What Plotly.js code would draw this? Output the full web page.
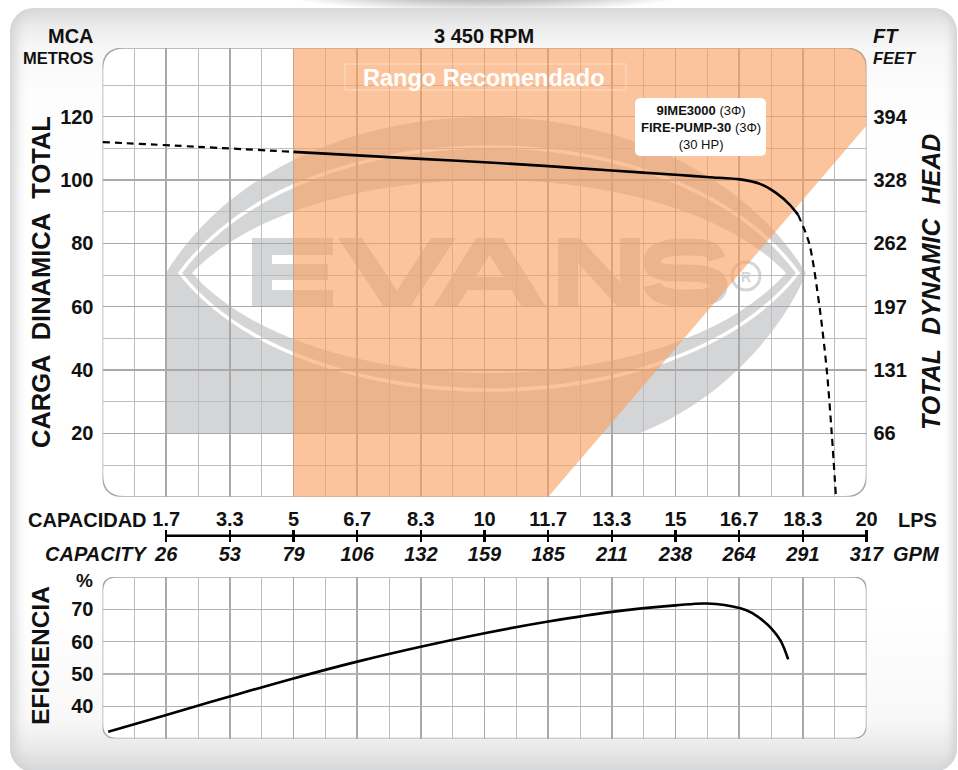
<!DOCTYPE html>
<html><head><meta charset="utf-8">
<script src="https://cdn.plot.ly/plotly-3.0.1.min.js"></script>
<style>
html,body{margin:0;padding:0;background:#fff;}
#wrap{position:relative;width:958px;height:770px;overflow:hidden;background:#fff;}
#shadow{position:absolute;left:270px;top:-34px;width:430px;height:46px;border-radius:50%;background:radial-gradient(ellipse at center, rgba(110,110,110,0.75) 0%, rgba(150,150,150,0.45) 45%, rgba(255,255,255,0) 72%);}
#panel{position:absolute;left:10px;top:8px;width:947px;height:764px;border-radius:24px;background:linear-gradient(to bottom,#d8d9da 0px,#ebebec 18px,#f7f7f7 40px,#fdfdfd 90px,#ffffff 200px,#ffffff 600px,#f8f8f8 712px,#e9e9ea 740px,#d6d7d8 764px);box-shadow: inset 14px 0 12px -9px #cfd0d1, inset -12px 0 10px -8px #cfd0d1;}
#chart{position:absolute;left:0;top:0;width:958px;height:770px;}
</style></head>
<body><div id="wrap"><div id="shadow"></div><div id="panel"></div><div id="chart"></div></div>
<script>
// ---------------- data ----------------
const lpsTicks  = [1.6667, 3.3333, 5, 6.6667, 8.3333, 10, 11.6667, 13.3333, 15, 16.6667, 18.3333, 20];
const lpsLabels = ['1.7','3.3','5','6.7','8.3','10','11.7','13.3','15','16.7','18.3','20'];
const gpmLabels = ['26','53','79','106','132','159','185','211','238','264','291','317'];
const lpsMinor  = [0.8333, 2.5, 4.1667, 5.8333, 7.5, 9.1667, 10.8333, 12.5, 14.1667, 15.8333, 17.5, 19.1667];
const headTicks  = [20, 40, 60, 80, 100, 120];
const headLabels = ['20','40','60','80','100','120'];
const ftLabels   = ['66','131','197','262','328','394'];
const headMinor  = [10, 30, 50, 70, 90, 110, 130];
const effTicks  = [40, 50, 60, 70];
const effLabels = ['40','50','60','70'];

// head curve (m) vs capacity (LPS)
const headDashLowQ  = [0, 2.5, 5];
const headDashLowH  = [112.0, 110.5, 108.9];
const headSolidQ = [5, 6.67, 8.33, 10, 11.67, 13.33, 15.1, 15.9, 16.69, 17.21, 17.65, 18.0, 18.21];
const headSolidH = [108.9, 107.8, 106.7, 105.6, 104.4, 103.0, 101.6, 100.9, 100.2, 98.8, 95.8, 92.1, 89.0];
const headDashHighQ = [18.21, 18.5, 18.77, 18.96, 19.09, 19.2];
const headDashHighH = [89.0, 80, 60, 40, 20, 0];

// efficiency (%) vs capacity (LPS)
const effQ = [0.15, 1.67, 3.33, 5, 6.67, 8.33, 10, 11.67, 13.33, 15, 15.83, 16.7, 17.0, 17.3, 17.5, 17.75, 17.95];
const effE = [32.1, 37.3, 43.0, 48.6, 53.8, 58.4, 62.6, 66.2, 69.2, 71.2, 71.8, 70.3, 68.9, 66.4, 64.2, 60.3, 54.5];

// recommended range polygon (LPS, m)
const recQ = [5, 5, 20, 20, 11.67];
const recH = [0, 141.7, 141.7, 117.2, 0];

// ---------------- geometry ----------------
const W = 958, H = 770;
const PX_L = 102.5, PX_R = 866.5;
const PX_T1 = 48, PX_B1 = 496.7;
const PX_T2 = 577, PX_B2 = 738.5;
const PX_AXIS = 535.7;
const Q_MAX = 20, H_MAX = 141.7, E_MIN = 30, E_MAX = 80;
const kx = (PX_R - PX_L) / Q_MAX;
const ky = (PX_B1 - PX_T1) / H_MAX;
const ke = (PX_B2 - PX_T2) / (E_MAX - E_MIN);
const dX = px => (px - PX_L) / kx;
const dY = py => (PX_B1 - py) / ky;
const f = v => (+v).toFixed(4);
const pt = (px, py) => f(dX(px)) + ',' + f(dY(py));
const poly = (pts) => 'M' + pts.map(p => pt(p[0], p[1])).join('L') + 'Z';
function rrect(x0, y0, x1, y1, rx, ry) {
  return `M${f(x0)},${f(y0+ry)}L${f(x0)},${f(y1-ry)}Q${f(x0)},${f(y1)} ${f(x0+rx)},${f(y1)}L${f(x1-rx)},${f(y1)}Q${f(x1)},${f(y1)} ${f(x1)},${f(y1-ry)}L${f(x1)},${f(y0+ry)}Q${f(x1)},${f(y0)} ${f(x1-rx)},${f(y0)}L${f(x0+rx)},${f(y0)}Q${f(x0)},${f(y0)} ${f(x0)},${f(y0+ry)}Z`;
}
function lens(lx, rx, cy, ty, by, a) {
  const w = rx - lx, c1 = lx + a*w, c2 = rx - a*w;
  const t = cy - (cy - ty)*4/3, b = cy + (by - cy)*4/3;
  return `M${pt(lx,cy)}C${pt(c1,t)} ${pt(c2,t)} ${pt(rx,cy)}C${pt(c2,b)} ${pt(c1,b)} ${pt(lx,cy)}Z`;
}

const FONT = 'Liberation Sans, Arial, Helvetica, sans-serif';
const INK = '#111111';
const LOGO = '#d4d5d6';
const xDom = [PX_L / W, PX_R / W];

// ---------------- traces ----------------
const carrier = (xa, ya) => ({x:[10], y:[70], xaxis:xa, yaxis:ya, mode:'markers', marker:{opacity:0}, hoverinfo:'skip'});
const traces = [
  {x: headDashLowQ, y: headDashLowH, xaxis:'x', yaxis:'y', mode:'lines', line:{color:'#000', width:2.2, dash:'7px,5px', shape:'spline'}, hoverinfo:'skip'},
  {x: headSolidQ, y: headSolidH, xaxis:'x', yaxis:'y', mode:'lines', line:{color:'#000', width:2.6, shape:'spline', smoothing:0.8}, hoverinfo:'skip'},
  {x: headDashHighQ, y: headDashHighH, xaxis:'x', yaxis:'y', mode:'lines', line:{color:'#000', width:2.2, dash:'7px,5px', shape:'spline', smoothing:0.8}, hoverinfo:'skip'},
  {x: effQ, y: effE, xaxis:'x2', yaxis:'y3', mode:'lines', line:{color:'#000', width:2.6, shape:'spline', smoothing:1}, hoverinfo:'skip'},
  carrier('x3','y'), carrier('x4','y'), carrier('x5','y'), carrier('x','y2')
];

// ---------------- shapes ----------------
const below = (path, fill, extra) => Object.assign({type:'path', xref:'x', yref:'y', path, fillcolor:fill, line:{width:0}, layer:'below'}, extra || {});
const cr = 22;
const recPath = `M${recQ[0]},${recH[0]}L${recQ[1]},${recH[1]}L${f(recQ[2]-cr/kx)},${recH[2]}Q${recQ[2]},${recH[2]} ${recQ[3]},${f(recH[2]-cr/ky)}L${recQ[3]},${recH[3]}L${recQ[4]},${recH[4]}Z`;

const shapes = [
  // top frame
  below(rrect(0, 0, Q_MAX, H_MAX, 22/kx, 22/ky), '#ffffff', {line:{color:'#a8a8a8', width:1.5}}),
  // logo (watermark)
  below(`M${pt(166,273)}C${pt(294,65)} ${pt(678,65)} ${pt(806,273)}C${pt(790,315)} ${pt(735,395)} ${pt(640,433)}L${pt(166,433)}Z`, LOGO),
  below(lens(192, 786, 273, 180, 373, 0.2), '#ffffff'),
  below(lens(180, 798, 273, 147, 390, 0.2), 'rgba(0,0,0,0)', {line:{color:'#ffffff', width:3.5}}),
  below(poly([[252,238],[333,238],[333,255],[272,255],[272,264],[328,264],[328,280],[272,280],[272,290],[333,290],[333,307],[252,307]]), LOGO),
  below(poly([[338,238],[362,238],[397,290.5],[431,238],[456,238],[410,307],[384,307]]), LOGO),
  below(poly([[476,238],[503,238],[546,307],[522,307],[511.4,290],[467.6,290],[457,307],[433,307]]) +
        'M' + [[489.5,254.9],[475.7,277],[503.3,277]].map(p => pt(p[0],p[1])).join('L') + 'Z', LOGO, {fillrule:'evenodd'}),
  below(poly([[558,307],[558,238],[580,238],[620,282],[620,238],[640,238],[640,307],[618,307],[578,263],[578,307]]), LOGO),
  below(`M${pt(717,259)}C${pt(713,246)} ${pt(700,247)} ${pt(685,247)}C${pt(665,247)} ${pt(652,251)} ${pt(652,262)}C${pt(652,273)} ${pt(666,273)} ${pt(685,273)}C${pt(705,273)} ${pt(719,276)} ${pt(719,286)}C${pt(719,297)} ${pt(703,298)} ${pt(685,298)}C${pt(668,298)} ${pt(655,296)} ${pt(652,285)}`, 'rgba(0,0,0,0)', {line:{color:LOGO, width:17}}),
  {type:'circle', xref:'x', yref:'y', x0:dX(732), x1:dX(760), y0:dY(290), y1:dY(262), line:{color:LOGO, width:3}, layer:'below'},
  // recommended range
  {type:'path', xref:'x', yref:'y', path: recPath, fillcolor:'rgb(248,160,95)', opacity:0.62, line:{width:0}, layer:'between'},
  // bottom frame
  {type:'path', xref:'x2', yref:'y3', path: rrect(0, E_MIN, Q_MAX, E_MAX, 14/kx, 14/ke), fillcolor:'#ffffff', line:{color:'#a8a8a8', width:1.5}, layer:'below'},
  // model label box
  {type:'path', xref:'paper', yref:'paper', path: rrect(635/W, 1-156/H, 766/W, 1-98/H, 6/W, 6/H), fillcolor:'#ffffff', line:{width:0}, layer:'above'},
  // "Rango Recomendado" faint box
  {type:'rect', xref:'paper', yref:'paper', x0:345/W, x1:626/W, y0:1-90/H, y1:1-64/H, fillcolor:'rgba(0,0,0,0)', line:{color:'rgba(255,255,255,0.45)', width:1}, layer:'above'},
  // capacity axis line
  {type:'line', xref:'x', yref:'paper', x0:lpsTicks[0], x1:lpsTicks[lpsTicks.length-1], y0:1-PX_AXIS/H, y1:1-PX_AXIS/H, line:{color:'#000', width:2.5}, layer:'above'}
];

// ---------------- annotations ----------------
function ann(text, px, py, xanchor, size, opts) {
  return Object.assign({text, xref:'paper', yref:'paper', x:px/W, y:1-py/H, xanchor, yanchor:'middle', showarrow:false,
    font:{family:FONT, size, color:INK}}, opts || {});
}
const annotations = [
  ann('<b>MCA</b>', 96, 36, 'right', 20),
  ann('<b>METROS</b>', 96, 58, 'right', 16.5),
  ann('<b>3 450 RPM</b>', 484, 36, 'center', 20),
  ann('<b><i>FT</i></b>', 871, 36, 'left', 20),
  ann('<b><i>FEET</i></b>', 871, 58, 'left', 16.5),
  ann('<b>CARGA\u00a0 DINAMICA\u00a0 TOTAL</b>', 41, 282, 'center', 25.5, {textangle:-90}),
  ann('<b><i>TOTAL\u00a0 DYNAMIC\u00a0 HEAD</i></b>', 931, 282, 'center', 25, {textangle:-90}),
  ann('<b>CAPACIDAD</b>', 149, 520, 'right', 20),
  ann('<b>LPS</b>', 896, 520, 'left', 20),
  ann('<b><i>CAPACITY</i></b>', 149, 554, 'right', 20),
  ann('<b><i>GPM</i></b>', 891, 554, 'left', 20),
  ann('<b>%</b>', 84, 580, 'center', 19),
  ann('<b>EFICIENCIA</b>', 40, 656, 'center', 24.5, {textangle:-90}),
  ann('<b>Rango Recomendado</b>', 484, 78, 'center', 23.5, {font:{family:FONT, size:23.5, color:'#ffffff'}}),
  ann('<b>9IME3000</b> (3Φ)<br><b>FIRE-PUMP-30</b> (3Φ)<br>(30 HP)', 700.5, 127, 'center', 13),
  ann('<b>R</b>', 746, 277, 'center', 14, {font:{family:FONT, size:14, color:LOGO}})
];

// ---------------- layout ----------------
const tickFont = {family:FONT, size:20, color:INK, weight:'bold'};
const gridMajor = '#a9a9a9', gridMinor = '#bebebe';
const overlayX = (pos, side, extra) => Object.assign({overlaying:'x', anchor:'free', position:pos, side, range:[0, Q_MAX],
  tickmode:'array', tickvals:lpsTicks, showgrid:false, zeroline:false, showline:false}, extra);
const layout = {
  width:W, height:H, margin:{l:0, r:0, t:0, b:0, pad:0},
  paper_bgcolor:'rgba(0,0,0,0)', plot_bgcolor:'rgba(0,0,0,0)',
  showlegend:false, font:{family:FONT, color:INK}, hovermode:false,
  xaxis:{domain:xDom, range:[0, Q_MAX], anchor:'y', tickmode:'array', tickvals:lpsTicks, showticklabels:false, ticks:'',
    showgrid:true, gridcolor:gridMajor, gridwidth:1.5, zeroline:false, showline:false,
    minor:{tickmode:'array', tickvals:lpsMinor, showgrid:true, gridcolor:gridMinor, gridwidth:1, ticks:''}},
  yaxis:{domain:[1-PX_B1/H, 1-PX_T1/H], range:[0, H_MAX], anchor:'x', tickmode:'array', tickvals:headTicks, ticktext:headLabels,
    ticks:'', ticklabelstandoff:8, tickfont:tickFont, showgrid:true, gridcolor:gridMajor, gridwidth:1.5, zeroline:false, showline:false,
    minor:{tickmode:'array', tickvals:headMinor, showgrid:true, gridcolor:gridMinor, gridwidth:1, ticks:''}},
  yaxis2:{overlaying:'y', side:'right', range:[0, H_MAX], tickmode:'array', tickvals:headTicks, ticktext:ftLabels,
    ticks:'', ticklabelstandoff:6, tickfont:tickFont, showgrid:false, zeroline:false, showline:false},
  xaxis2:{domain:xDom, range:[0, Q_MAX], anchor:'y3', tickmode:'array', tickvals:lpsTicks, showticklabels:false, ticks:'',
    showgrid:true, gridcolor:gridMajor, gridwidth:1.5, zeroline:false, showline:false,
    minor:{tickmode:'array', tickvals:lpsMinor, showgrid:true, gridcolor:gridMinor, gridwidth:1, ticks:''}},
  yaxis3:{domain:[1-PX_B2/H, 1-PX_T2/H], range:[E_MIN, E_MAX], anchor:'x2', tickmode:'array', tickvals:effTicks, ticktext:effLabels,
    ticks:'', ticklabelstandoff:8, tickfont:tickFont, showgrid:true, gridcolor:'#b3b3b3', gridwidth:1.3, zeroline:false, showline:false},
  // LPS labels
  xaxis3: overlayX(1-(PX_AXIS-6)/H, 'top', {ticktext:lpsLabels, ticks:'', tickfont:tickFont}),
  // GPM labels
  xaxis4: overlayX(1-(PX_AXIS+4)/H, 'bottom', {ticktext:gpmLabels, ticks:'', tickfont:Object.assign({}, tickFont, {style:'italic'})}),
  // tick marks crossing the capacity line
  xaxis5: overlayX(1-(PX_AXIS+6)/H, 'top', {showticklabels:false, ticks:'outside', ticklen:12, tickwidth:2.5, tickcolor:'#000'}),
  shapes, annotations
};

Plotly.newPlot('chart', traces, layout, {staticPlot:true, displayModeBar:false});
</script></body></html>
